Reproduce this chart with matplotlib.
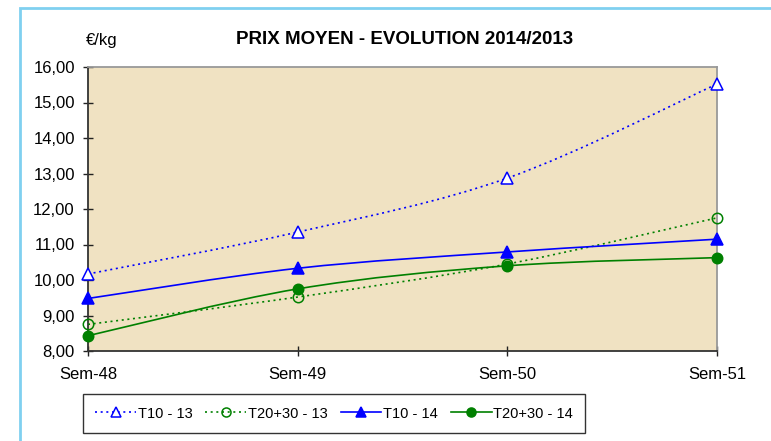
import numpy as np
import matplotlib
matplotlib.use("Agg")
import matplotlib.pyplot as plt
from matplotlib.path import Path
from matplotlib.patches import PathPatch, Rectangle
from matplotlib.lines import Line2D

plt.rcParams["font.family"] = ["Liberation Sans", "DejaVu Sans"]

weeks = ["Sem-48", "Sem-49", "Sem-50", "Sem-51"]
t10_13 = [10.17, 11.35, 12.87, 15.52]
t2030_13 = [8.75, 9.52, 10.45, 11.75]
t10_14 = [9.48, 10.33, 10.79, 11.15]
t2030_14 = [8.43, 9.75, 10.40, 10.63]

DOT = (0, (1.2, 2.2))
series = [
    ("T10 - 13", t10_13, "#0000FF", DOT, "^", "white"),
    ("T20+30 - 13", t2030_13, "#008000", DOT, "o", "none"),
    ("T10 - 14", t10_14, "#0000FF", "-", "^", "#0000FF"),
    ("T20+30 - 14", t2030_14, "#008000", "-", "o", "#008000"),
]


def smooth_path(x, y, k=1 / 6):
    # Excel-like smoothed line as cubic bezier segments (Catmull-Rom)
    pts = np.column_stack([x, y]).astype(float)
    verts = [pts[0]]
    codes = [Path.MOVETO]
    n = len(pts)
    for i in range(n - 1):
        p0 = pts[i - 1] if i > 0 else pts[i]
        p1, p2 = pts[i], pts[i + 1]
        p3 = pts[i + 2] if i + 2 < n else pts[i + 1]
        verts += [p1 + (p2 - p0) * k, p2 - (p3 - p1) * k, p2]
        codes += [Path.CURVE4] * 3
    return Path(verts, codes)


fig = plt.figure(figsize=(7.71, 4.41), dpi=100)
fig.patches.append(Rectangle((20 / 771, -0.05), 1.1, (441 - 7.5) / 441 + 0.05,
                             transform=fig.transFigure, fill=False,
                             edgecolor="#80D0F0", linewidth=2))
ax = fig.add_axes([88 / 771, 1 - 351 / 441, (717 - 88) / 771, (351 - 67) / 441])
ax.set_facecolor("#F0E2C2")

x = np.arange(len(weeks))
handles = []
for label, vals, color, ls, marker, mfc in series:
    ax.add_patch(PathPatch(smooth_path(x, vals), fill=False, edgecolor=color,
                           linestyle=ls, linewidth=1.2, zorder=3))
    ms = 8.5 if marker == "^" else 7.5
    ax.plot(x, vals, linestyle="none", marker=marker, markersize=ms,
            markerfacecolor=mfc, markeredgecolor=color, markeredgewidth=1.1,
            zorder=4, clip_on=False)
    handles.append(Line2D([], [], color=color, linestyle=ls, linewidth=1.2,
                          marker=marker, markersize=ms - 1, markerfacecolor=mfc,
                          markeredgecolor=color, markeredgewidth=1.1))

ax.set_xlim(0, len(weeks) - 1)
ax.set_ylim(8, 16)
ax.set_xticks(x)
ax.set_xticklabels(weeks, fontsize=12)
yt = np.arange(8, 17)
ax.set_yticks(yt)
ax.set_yticklabels([f"{v:.2f}".replace(".", ",") for v in yt], fontsize=12)
ax.tick_params(axis="both", direction="inout", length=7, width=1, color="#222222")
ax.tick_params(axis="x", pad=8)
ax.tick_params(axis="y", pad=6)
for side in ["top", "right"]:
    ax.spines[side].set_color("#999999")
    ax.spines[side].set_linewidth(1.3)
for side in ["left", "bottom"]:
    ax.spines[side].set_color("#333333")
    ax.spines[side].set_linewidth(1.3)

fig.text(86 / 771, 1 - 40 / 441, "€/kg", fontsize=12, ha="left", va="center")
fig.text(405 / 771, 1 - 40 / 441, "PRIX MOYEN - EVOLUTION 2014/2013",
         fontsize=13.5, fontweight="bold", ha="center", va="center")

leg = fig.legend(handles, [s[0] for s in series], loc="center",
                 bbox_to_anchor=(334 / 771, 1 - 413.5 / 441), ncol=4,
                 fontsize=10.5, frameon=True, fancybox=False, handlelength=2.8,
                 columnspacing=0.9, handletextpad=0.1, borderpad=0.85,
                 borderaxespad=0)
leg.get_frame().set_edgecolor("black")
leg.get_frame().set_linewidth(1)

fig.savefig("out.png", dpi=100, facecolor="white")
